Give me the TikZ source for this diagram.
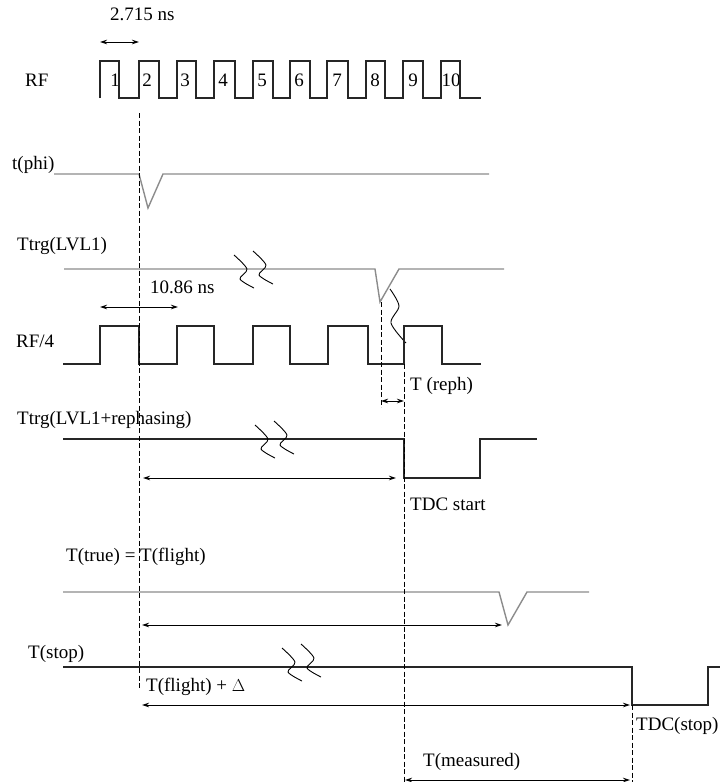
\documentclass[tikz,border=0pt]{standalone}
\usepackage{fontspec}
\setmainfont{Liberation Serif}
\usetikzlibrary{arrows.meta}
\definecolor{lg}{gray}{0.55}
\begin{document}
\begin{tikzpicture}[x=1pt,y=-1pt,
 sig/.style={line width=1.3pt, draw=black!85},
 gsig/.style={line width=1.4pt, draw=lg},
 vdash/.style={line width=0.9pt, draw=black, dash pattern=on 5pt off 2.5pt},
 dim/.style={line width=0.9pt, {Stealth[length=7pt,width=4.5pt]}-{Stealth[length=7pt,width=4.5pt]}},
 lbl/.style={anchor=west, inner sep=0pt, font=\fontsize{19}{22}\selectfont},
 num/.style={inner sep=0pt, font=\fontsize{19}{22}\selectfont},
 brk/.pic={\draw[line width=0.9pt] plot[smooth] coordinates {(0,0) (13,14) (6,24) (20,33)};
           \draw[line width=0.9pt] plot[smooth] coordinates {(19,-4) (32,10) (25,20) (39,29)};}
]
\useasboundingbox (0,0) rectangle (720,782);

% ---------- labels ----------
\node[lbl] (t2715) at (110,14) {2.715 ns};
\node[lbl] (lrf) at (25,80) {RF};
\foreach \n/\x in {1/115,2/147,3/185,4/223,5/262,6/299,7/337,8/375,9/413,10/451}
  \node[num] (n\n) at (\x,80) {\n};
\node[lbl] (lphi) at (12,165) {t(phi)};
\node[lbl] (llvl) at (17,246) {Ttrg(LVL1)};
\node[lbl] (t1086) at (150,287) {10.86 ns};
\node[lbl] (lrf4) at (16,341) {RF/4};
\node[lbl] (lreph) at (410,386) {T (reph)};
\node[lbl] (lreph2) at (17,420) {Ttrg(LVL1+rephasing)};
\node[lbl] (ltdc) at (410,504) {TDC start};
\node[lbl] (ltrue) at (66,557) {T(true) = T(flight)};
\node[lbl] (lstop) at (28,654) {T(stop)};
\node[lbl] (lfd) at (146,687) {T(flight) + $\Delta$};
\node[lbl] (ltdcs) at (636,726) {TDC(stop)};
\node[lbl] (lmeas) at (423,762) {T(measured)};

% ---------- signals ----------
\draw[sig] (100,98)--(100,61)--(119,61)--(119,98)--(139,98)--(139,61)--(159,61)--(159,98)--(177,98)--(177,61)--(196,61)--(196,98)--(214,98)--(214,61)--(235,61)--(235,98)--(253,98)--(253,61)--(273,61)--(273,98)--(290,98)--(290,61)--(310,61)--(310,98)--(327,98)--(327,61)--(348,61)--(348,98)--(366,98)--(366,61)--(385,61)--(385,98)--(403,98)--(403,61)--(423,61)--(423,98)--(441,98)--(441,61)--(460,61)--(460,98)--(481,98);

\draw[gsig] (54,174)--(139,174)--(148,208)--(163,174)--(489,174);

\draw[gsig] (64,269)--(375,269)--(380,302)--(399,269)--(504,269);
\draw[line width=0.9pt] plot[smooth] coordinates {(390,289) (399,306) (391,323) (406,343)};

\draw[sig] (63,364)--(100,364)--(100,326)--(139,326)--(139,364)--(177,364)--(177,326)--(214,326)--(214,364)--(253,364)--(253,326)--(290,326)--(290,364)--(328,364)--(328,326)--(368,326)--(368,364)--(404,364)--(404,326)--(442,326)--(442,364)--(481,364);

\draw[sig] (63,439)--(404,439)--(404,478)--(480,478)--(480,439)--(537,439);

\draw[gsig] (63,592)--(499,592)--(508,625)--(527,592)--(589,592);

\draw[sig] (63,667)--(632,667)--(632,705)--(708,705)--(708,667)--(722,667);

% ---------- break marks ----------
\pic at (234,255) {brk};
\pic at (255,425) {brk};
\pic at (282,648) {brk};

% ---------- dashed markers ----------
\coordinate (d1a) at (139,113); \coordinate (d1b) at (139,690);
\coordinate (d2a) at (381,302); \coordinate (d2b) at (381,407);
\coordinate (d3a) at (404,364); \coordinate (d3b) at (404,782);
\coordinate (d4a) at (632,705); \coordinate (d4b) at (632,782);
\draw[vdash] (d1a)--(d1b);
\draw[vdash] (d2a)--(d2b);
\draw[vdash] (d3a)--(d3b);
\draw[vdash] (d4a)--(d4b);

% ---------- dimension arrows ----------
\coordinate (a1a) at (100,42);  \coordinate (a1b) at (139,42);
\coordinate (a2a) at (100,307); \coordinate (a2b) at (178,307);
\coordinate (a3a) at (381,401); \coordinate (a3b) at (404,401);
\coordinate (a4a) at (143,478); \coordinate (a4b) at (396,478);
\coordinate (a5a) at (142,625); \coordinate (a5b) at (502,625);
\coordinate (a6a) at (142,705); \coordinate (a6b) at (630,705);
\coordinate (a7a) at (405,780); \coordinate (a7b) at (630,780);
\draw[dim] (a1a)--(a1b);
\draw[dim] (a2a)--(a2b);
\draw[dim] (a3a)--(a3b);
\draw[dim] (a4a)--(a4b);
\draw[dim] (a5a)--(a5b);
\draw[dim] (a6a)--(a6b);
\draw[dim] (a7a)--(a7b);
\end{tikzpicture}
\end{document}
